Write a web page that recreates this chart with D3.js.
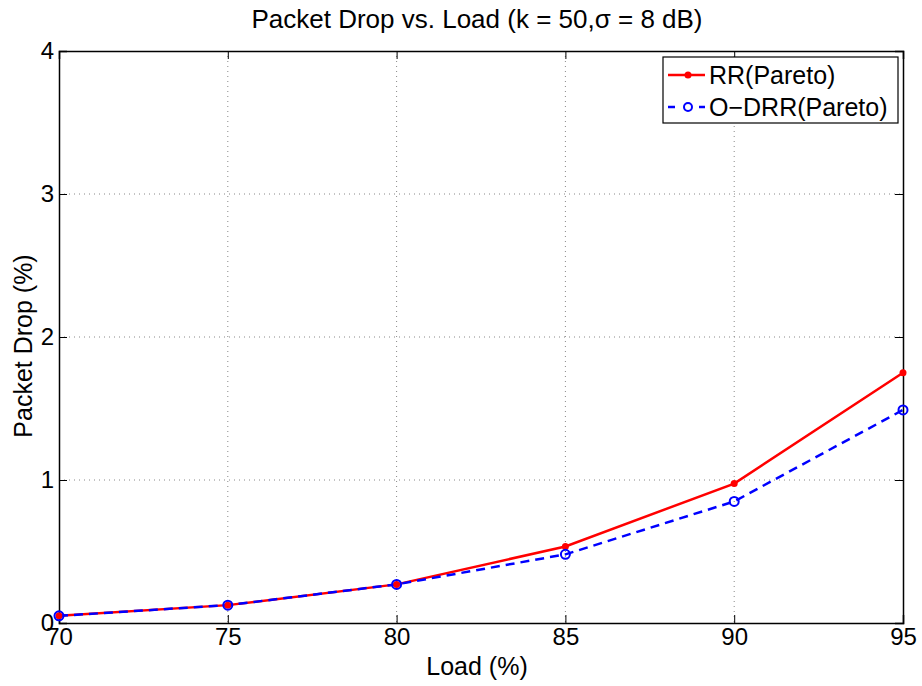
<!DOCTYPE html>
<html>
<head>
<meta charset="utf-8">
<script src="https://cdn.jsdelivr.net/npm/d3@7"></script>
<style>
  body { margin: 0; background: #fff; }
  text { font-family: "Liberation Sans", Arial, sans-serif; }
</style>
</head>
<body>
<script>
// data
var loads = [70, 75, 80, 85, 90, 95];
var rrPareto = [0.05, 0.125, 0.27, 0.535, 0.975, 1.75];
var odrrPareto = [0.05, 0.125, 0.27, 0.48, 0.85, 1.49];
var xTicks = [70, 75, 80, 85, 90, 95];
var yTicks = [0, 1, 2, 3, 4];

// plot box
var margin = {top: 51, right: 19, bottom: 63, left: 59},
    width = 922 - margin.left - margin.right,
    height = 686 - margin.top - margin.bottom;

var svg = d3.select("body").append("svg")
    .attr("width", 922)
    .attr("height", 686);

var g = svg.append("g")
    .attr("transform", "translate(" + margin.left + "," + margin.top + ")");

var x = d3.scaleLinear().domain([70, 95]).range([0, width]);
var y = d3.scaleLinear().domain([0, 4]).range([height, 0]);

// dotted grid
g.selectAll(".gx").data(xTicks.slice(1, -1)).enter().append("line")
    .attr("x1", d => x(d)).attr("x2", d => x(d))
    .attr("y1", 0).attr("y2", height)
    .attr("stroke", "#888").attr("stroke-width", 1)
    .attr("stroke-dasharray", "1,4");
g.selectAll(".gy").data(yTicks.slice(1, -1)).enter().append("line")
    .attr("y1", d => y(d)).attr("y2", d => y(d))
    .attr("x1", 0).attr("x2", width)
    .attr("stroke", "#888").attr("stroke-width", 1)
    .attr("stroke-dasharray", "1,4");

// axes, ticks pointing inwards
var tickLen = 8;
var fmt = d3.format("d");
var xb = g.append("g").attr("transform", "translate(0," + height + ")")
    .call(d3.axisBottom(x).tickValues(xTicks).tickSize(-tickLen).tickPadding(5).tickFormat(fmt));
var xt = g.append("g")
    .call(d3.axisTop(x).tickValues(xTicks).tickSize(-tickLen).tickFormat(""));
var yl = g.append("g")
    .call(d3.axisLeft(y).tickValues(yTicks).tickSize(-tickLen).tickPadding(5).tickFormat(fmt));
var yr = g.append("g").attr("transform", "translate(" + width + ",0)")
    .call(d3.axisRight(y).tickValues(yTicks).tickSize(-tickLen).tickFormat(""));

[xb, xt, yl, yr].forEach(function(a) {
  a.select(".domain").attr("stroke", "#000").attr("stroke-width", 1.5);
  a.selectAll(".tick line").attr("stroke", "#000").attr("stroke-width", 1);
  a.selectAll("text").attr("font-size", 24).attr("fill", "#000")
    .style("font-family", "'Liberation Sans', Arial, sans-serif");
});
xb.selectAll("text").attr("dy", "0.71em");

// series
var line = d3.line()
    .x((d, i) => x(loads[i]))
    .y(d => y(d));

g.append("path").datum(rrPareto)
    .attr("d", line).attr("fill", "none")
    .attr("stroke", "#ff0000").attr("stroke-width", 2.5);
g.append("path").datum(odrrPareto)
    .attr("d", line).attr("fill", "none")
    .attr("stroke", "#0000ff").attr("stroke-width", 2.5)
    .attr("stroke-dasharray", "9,6");

g.selectAll(".rr").data(rrPareto).enter().append("circle")
    .attr("cx", (d, i) => x(loads[i])).attr("cy", d => y(d))
    .attr("r", 3.5).attr("fill", "#ff0000");
g.selectAll(".od").data(odrrPareto).enter().append("circle")
    .attr("cx", (d, i) => x(loads[i])).attr("cy", d => y(d))
    .attr("r", 4.5).attr("fill", "none")
    .attr("stroke", "#0000ff").attr("stroke-width", 2);

// legend
var lg = svg.append("g").attr("transform", "translate(663,57)");
lg.append("rect").attr("width", 235).attr("height", 66)
    .attr("fill", "#fff").attr("stroke", "#000").attr("stroke-width", 1.2);

// RR entry: solid line
lg.append("line").attr("x1", 5).attr("x2", 42).attr("y1", 18).attr("y2", 18)
    .attr("stroke", "#ff0000").attr("stroke-width", 2.5);
lg.append("circle").attr("cx", 25).attr("cy", 18).attr("r", 3.5).attr("fill", "#ff0000");
lg.append("text").attr("x", 46).attr("y", 18).attr("dy", "0.36em")
    .attr("font-size", 25).text("RR(Pareto)");

// O-DRR entry: dash, circle, dash
[[5, 12], [36, 42]].forEach(function(s) {
  lg.append("line").attr("x1", s[0]).attr("x2", s[1]).attr("y1", 50).attr("y2", 50)
    .attr("stroke", "#0000ff").attr("stroke-width", 2.5);
});
lg.append("circle").attr("cx", 25).attr("cy", 50).attr("r", 4)
    .attr("fill", "none").attr("stroke", "#0000ff").attr("stroke-width", 2);
lg.append("text").attr("x", 46).attr("y", 50).attr("dy", "0.36em")
    .attr("font-size", 25).text("O\u2212DRR(Pareto)");

// titles
svg.append("text").attr("x", 477).attr("y", 28)
    .attr("text-anchor", "middle").attr("font-size", 26)
    .text("Packet Drop vs. Load (k = 50,\u03c3 = 8 dB)");
svg.append("text").attr("x", 477).attr("y", 675)
    .attr("text-anchor", "middle").attr("font-size", 25)
    .text("Load (%)");
svg.append("text")
    .attr("transform", "translate(32,346) rotate(-90)")
    .attr("text-anchor", "middle").attr("font-size", 25)
    .text("Packet Drop (%)");
</script>
</body>
</html>
